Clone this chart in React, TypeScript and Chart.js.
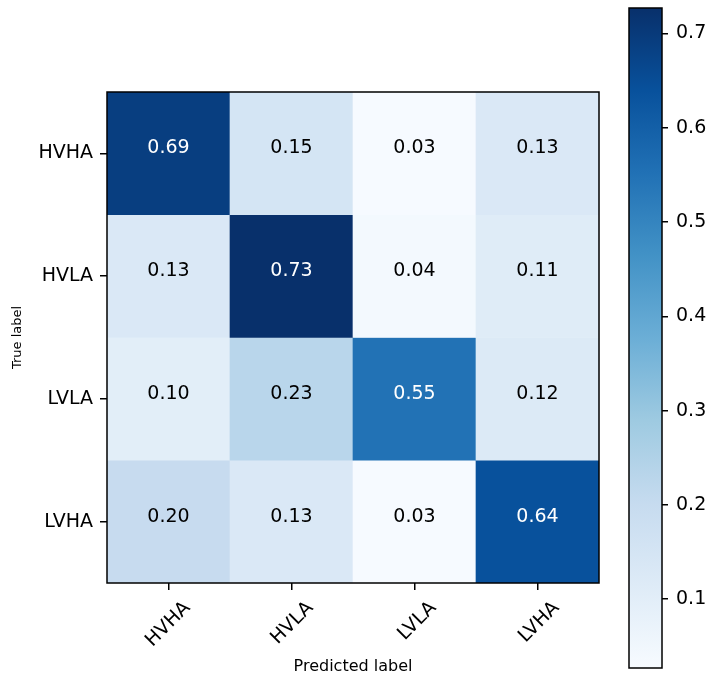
import React, { useEffect, useRef } from "react";
import { Chart, registerables } from "chart.js";

Chart.register(...registerables);

// ---- data ----
const predictedLabels = ["HVHA", "HVLA", "LVLA", "LVHA"];
const trueLabels = ["HVHA", "HVLA", "LVLA", "LVHA"];
const rowHVHA = [0.69, 0.15, 0.03, 0.13];
const rowHVLA = [0.13, 0.73, 0.04, 0.11];
const rowLVLA = [0.1, 0.23, 0.55, 0.12];
const rowLVHA = [0.2, 0.13, 0.03, 0.64];
const rows = [rowHVHA, rowHVLA, rowLVLA, rowLVHA];
const colorbarTicks = [0.1, 0.2, 0.3, 0.4, 0.5, 0.6, 0.7];
const colorMin = 0.027;
const colorMax = 0.727;

// matplotlib "Blues" colormap control colours
const BLUES = [
  [247, 251, 255],
  [222, 235, 247],
  [198, 219, 239],
  [158, 202, 225],
  [107, 174, 214],
  [66, 146, 198],
  [33, 113, 181],
  [8, 81, 156],
  [8, 48, 107],
];

const FONT = "DejaVu Sans";

function rgb(c: number[]) {
  return `rgb(${Math.round(c[0])},${Math.round(c[1])},${Math.round(c[2])})`;
}

function blues(t: number) {
  const tt = Math.max(0, Math.min(1, t));
  const p = tt * (BLUES.length - 1);
  const i = Math.min(Math.floor(p), BLUES.length - 2);
  const f = p - i;
  const a = BLUES[i];
  const b = BLUES[i + 1];
  return rgb([a[0] + (b[0] - a[0]) * f, a[1] + (b[1] - a[1]) * f, a[2] + (b[2] - a[2]) * f]);
}

function norm(v: number) {
  return (v - colorMin) / (colorMax - colorMin);
}

const allValues = rows.flat();
const threshold = Math.max(...allValues) / 2;

const framePlugin = {
  id: "frame",
  afterDatasetsDraw(chart: any) {
    const { ctx } = chart;
    const { left, top, right, bottom } = chart.chartArea;
    ctx.save();
    ctx.strokeStyle = "#000";
    ctx.lineWidth = 1.5;
    ctx.strokeRect(left, top, right - left, bottom - top);
    ctx.restore();
  },
};

const cellTextPlugin = {
  id: "cellText",
  afterDatasetsDraw(chart: any) {
    const { ctx } = chart;
    ctx.save();
    ctx.font = `19px "${FONT}"`;
    ctx.textAlign = "center";
    ctx.textBaseline = "alphabetic";
    rows.forEach((row, r) => {
      const meta = chart.getDatasetMeta(r);
      meta.data.forEach((bar: any, c: number) => {
        const v = row[c];
        const { x, y, base } = bar.getProps(["x", "y", "base"], true);
        const cy = (y + base) / 2;
        ctx.fillStyle = v > threshold ? "#ffffff" : "#000000";
        ctx.fillText(v.toFixed(2), x, cy);
      });
    });
    ctx.restore();
  },
};

export default function App() {
  const mainRef = useRef<HTMLCanvasElement | null>(null);
  const barRef = useRef<HTMLCanvasElement | null>(null);

  useEffect(() => {
    const datasets = rows.map((row, r) => ({
      label: trueLabels[r],
      data: row.map(() => [r - 0.5, r + 0.5]),
      backgroundColor: row.map((v) => blues(norm(v))),
      borderWidth: 0,
      grouped: false,
      barPercentage: 1,
      categoryPercentage: 1,
    }));

    const main = new Chart(mainRef.current as HTMLCanvasElement, {
      type: "bar",
      data: { labels: predictedLabels, datasets: datasets as any },
      options: {
        responsive: false,
        animation: false,
        devicePixelRatio: 1,
        layout: { padding: { left: 0, top: 92, right: 21, bottom: 0 } },
        plugins: { legend: { display: false }, tooltip: { enabled: false } },
        scales: {
          x: {
            type: "category",
            offset: true,
            grid: {
              display: true,
              drawOnChartArea: false,
              drawTicks: true,
              tickLength: 7,
              offset: false,
              color: "#000",
              lineWidth: 1.5,
            },
            border: { display: false },
            ticks: {
              autoSkip: false,
              maxRotation: 45,
              minRotation: 45,
              labelOffset: 19,
              padding: 7,
              color: "#000",
              font: { family: FONT, size: 19 },
            },
            title: {
              display: true,
              text: "Predicted label",
              color: "#000",
              font: { family: FONT, size: 16 },
              padding: { top: 0, bottom: 3 },
            },
            afterFit: (s: any) => {
              s.height = 96;
              s.paddingLeft = 0;
              s.paddingRight = 0;
            },
          },
          y: {
            type: "linear",
            reverse: true,
            min: -0.5,
            max: 3.5,
            afterBuildTicks: (s: any) => {
              s.ticks = trueLabels.map((_, i) => ({ value: i }));
            },
            grid: {
              display: true,
              drawOnChartArea: false,
              drawTicks: true,
              tickLength: 7,
              color: "#000",
              lineWidth: 1.5,
            },
            border: { display: false },
            ticks: {
              callback: (_v: any, i: number) => trueLabels[i],
              padding: 7,
              color: "#000",
              font: { family: FONT, size: 19 },
            },
            title: {
              display: true,
              text: "True label",
              color: "#000",
              font: { family: FONT, size: 13 },
              padding: { top: 10, bottom: 0 },
            },
            afterFit: (s: any) => {
              s.width = 107;
              s.paddingTop = 0;
              s.paddingBottom = 0;
            },
          },
        },
      } as any,
      plugins: [cellTextPlugin, framePlugin],
    });

    const gradientFill = (ctx: any) => {
      const chart = ctx.chart;
      if (!chart.chartArea) return rgb(BLUES[0]);
      const ys = chart.scales.y;
      const g = chart.ctx.createLinearGradient(
        0,
        ys.getPixelForValue(colorMin),
        0,
        ys.getPixelForValue(colorMax)
      );
      BLUES.forEach((c, i) => g.addColorStop(i / (BLUES.length - 1), rgb(c)));
      return g;
    };

    const bar = new Chart(barRef.current as HTMLCanvasElement, {
      type: "bar",
      data: {
        labels: [""],
        datasets: [
          {
            data: [[colorMin, colorMax]] as any,
            backgroundColor: gradientFill,
            borderWidth: 0,
            barPercentage: 1,
            categoryPercentage: 1,
          },
        ],
      },
      options: {
        responsive: false,
        animation: false,
        devicePixelRatio: 1,
        layout: { padding: { left: 29, top: 8, right: 0, bottom: 11 } },
        plugins: { legend: { display: false }, tooltip: { enabled: false } },
        scales: {
          x: { display: false },
          y: {
            position: "right",
            min: colorMin,
            max: colorMax,
            afterBuildTicks: (s: any) => {
              s.ticks = colorbarTicks.map((v) => ({ value: v }));
            },
            grid: {
              display: true,
              drawOnChartArea: false,
              drawTicks: true,
              tickLength: 6,
              color: "#000",
              lineWidth: 1.5,
            },
            border: { display: false },
            ticks: {
              callback: (v: any) => Number(v).toFixed(1),
              padding: 8,
              color: "#000",
              font: { family: FONT, size: 19 },
            },
            afterFit: (s: any) => {
              s.width = 48;
              s.paddingTop = 0;
              s.paddingBottom = 0;
            },
          },
        },
      } as any,
      plugins: [framePlugin],
    });

    return () => {
      main.destroy();
      bar.destroy();
    };
  }, []);

  return (
    <div
      style={{
        position: "absolute",
        left: 0,
        top: 0,
        width: 710,
        height: 679,
        background: "#fff",
      }}
    >
      <canvas
        ref={mainRef}
        width={620}
        height={679}
        style={{ position: "absolute", left: 0, top: 0, width: 620, height: 679 }}
      />
      <canvas
        ref={barRef}
        width={110}
        height={679}
        style={{ position: "absolute", left: 600, top: 0, width: 110, height: 679 }}
      />
    </div>
  );
}
